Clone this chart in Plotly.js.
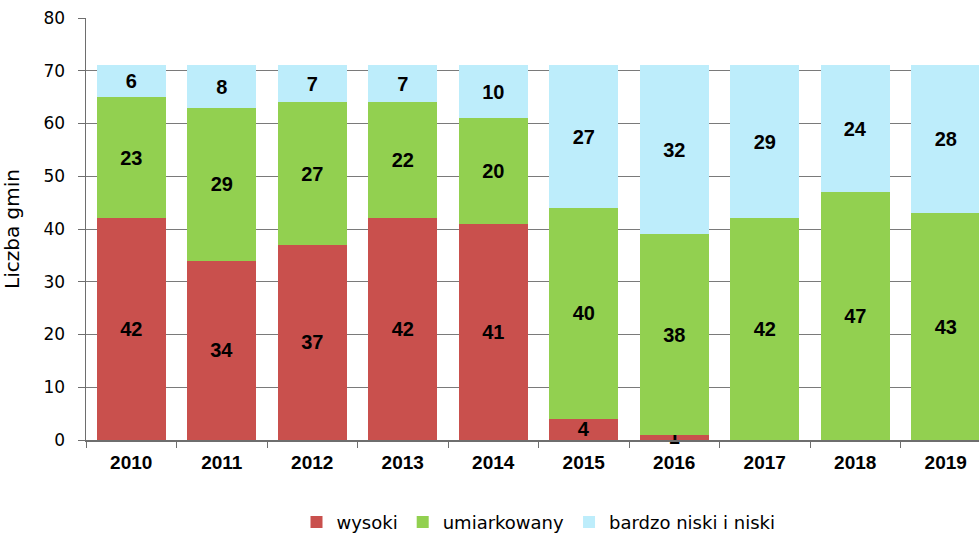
<!DOCTYPE html>
<html>
<head>
<meta charset="utf-8">
<script src="https://cdn.plot.ly/plotly-3.0.1.min.js"></script>
<style>
html,body{margin:0;padding:0;overflow:hidden;background:#fff;}
#chart{width:1000px;height:535px;}
</style>
</head>
<body>
<div id="chart"></div>
<script>
const years = ['2010','2011','2012','2013','2014','2015','2016','2017','2018','2019'];
const wysoki = [42, 34, 37, 42, 41, 4, 1, 0, 0, 0];
const umiarkowany = [23, 29, 27, 22, 20, 40, 38, 42, 47, 43];
const niski = [6, 8, 7, 7, 10, 27, 32, 29, 24, 28];
const seriesNames = ['wysoki', 'umiarkowany', 'bardzo niski i niski'];
const seriesColors = ['#C9504D', '#92D050', '#BDEDFB'];

const labelFont = {family: 'Arial, "Liberation Sans", sans-serif', size: 20, color: '#000000', weight: 'bold'};

function mk(vals, i) {
  return {
    type: 'bar',
    name: seriesNames[i],
    x: years,
    y: vals,
    text: vals.map(v => v > 0 ? String(v) : ''),
    textposition: 'inside',
    insidetextanchor: 'middle',
    constraintext: 'none',
    cliponaxis: false,
    textangle: 0,
    textfont: labelFont,
    insidetextfont: labelFont,
    marker: {color: seriesColors[i], line: {width: 0}},
    hoverinfo: 'x+y+name'
  };
}

const data = [mk(wysoki, 0), mk(umiarkowany, 1), mk(niski, 2)];

const layout = {
  width: 1000,
  height: 535,
  margin: {l: 86, r: 9, t: 18, b: 95, autoexpand: false},
  barmode: 'stack',
  bargap: 0.238,
  paper_bgcolor: '#ffffff',
  plot_bgcolor: '#ffffff',
  font: {family: '"DejaVu Sans", sans-serif', color: '#000000'},
  xaxis: {
    type: 'category',
    tickson: 'boundaries',
    ticks: 'outside',
    ticklen: 6,
    tickcolor: '#6e6e6e',
    showline: true,
    linecolor: '#6e6e6e',
    linewidth: 1.5,
    showgrid: false,
    automargin: false,
    ticklabelstandoff: 5,
    tickfont: {family: 'Arial, "Liberation Sans", sans-serif', size: 19, color: '#000000', weight: 'bold'}
  },
  yaxis: {
    range: [0, 80],
    dtick: 10,
    tick0: 0,
    ticks: 'outside',
    ticklen: 7,
    tickcolor: '#6e6e6e',
    showline: true,
    linecolor: '#6e6e6e',
    linewidth: 1.5,
    showgrid: true,
    gridcolor: '#7a7a7a',
    gridwidth: 1,
    zeroline: false,
    automargin: false,
    ticklabelstandoff: 9,
    tickfont: {family: '"DejaVu Sans", sans-serif', size: 17, color: '#000000'},
    title: {text: 'Liczba gmin', font: {family: '"DejaVu Sans", sans-serif', size: 20, color: '#000000'}, standoff: 24}
  },
  showlegend: true,
  legend: {
    orientation: 'h',
    x: 0.5,
    xanchor: 'center',
    y: -0.195,
    yanchor: 'middle',
    traceorder: 'normal',
    font: {family: '"DejaVu Sans", sans-serif', size: 18, color: '#000000'},
    itemwidth: 30,
    bgcolor: 'rgba(0,0,0,0)'
  }
};

Plotly.newPlot('chart', data, layout, {displayModeBar: false, staticPlot: true});
</script>
</body>
</html>
